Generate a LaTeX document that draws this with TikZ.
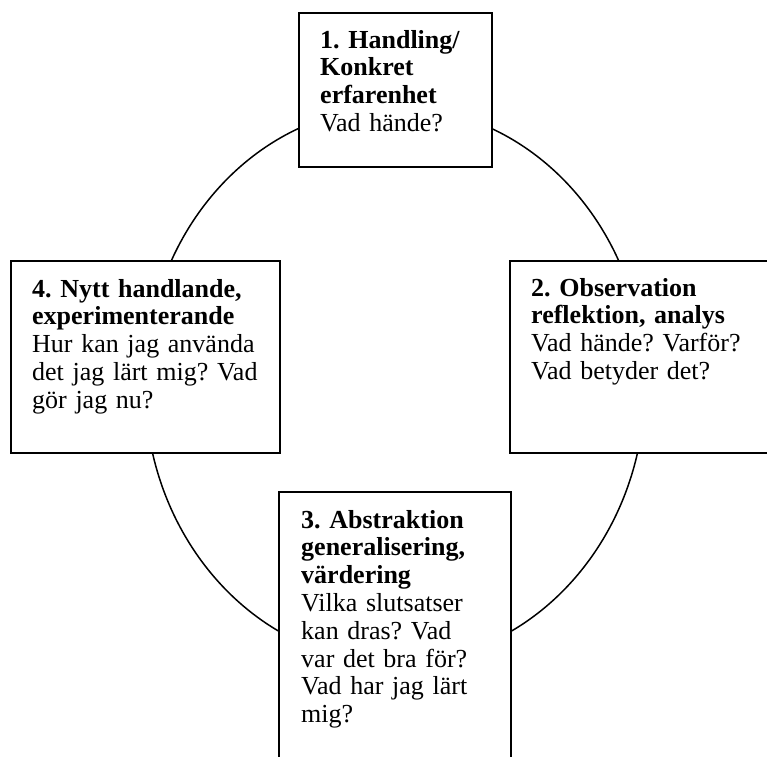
\documentclass[tikz,border=0pt]{standalone}
\usepackage{fontspec}
\setmainfont{Liberation Serif}
\frenchspacing
\begin{document}
\begin{tikzpicture}[x=1pt,y=-1pt]
        \tikzstyle{phase}=[rectangle,draw=black,line width=1.8pt,fill=white,inner sep=0pt,outer sep=0pt]
        \tikzstyle{phasetext}=[anchor=base west,inner sep=0pt,text width=235pt,align=left,font=\fontsize{26}{27.8}\selectfont]
        \tikzstyle{loopline}=[draw,line width=1.5pt]
       \begin{scope}
         \path[use as bounding box,clip] (0,0) rectangle (767,756);
         \path[loopline] (395,385) ellipse [x radius=250pt, y radius=278pt];

         \node [phase,minimum width=193pt,minimum height=154pt] (s1) at (395.5,90) {};
         \node [phase,minimum width=262pt,minimum height=192pt] (s2) at (641,357) {};
         \node [phase,minimum width=232pt,minimum height=270pt] (s3) at (395,627) {};
         \node [phase,minimum width=269pt,minimum height=192pt] (s4) at (145.5,357) {};

         \node [phasetext] (t1) at ([shift={(21,35)}]s1.north west) {\textbf{1. Handling/}\\\textbf{Konkret}\\\textbf{erfarenhet}\\Vad hände?};
         \node [phasetext] (t2) at ([shift={(21,35)}]s2.north west) {\textbf{2. Observation}\\\textbf{reflektion, analys}\\Vad hände? Varför?\\Vad betyder det?};
         \node [phasetext] (t3) at ([shift={(22,36)}]s3.north west) {\textbf{3. Abstraktion}\\\textbf{generalisering,}\\\textbf{värdering}\\Vilka slutsatser\\kan dras? Vad\\var det bra för?\\Vad har jag lärt\\mig?};
         \node [phasetext] (t4) at ([shift={(21,36)}]s4.north west) {\textbf{4. Nytt handlande,}\\\textbf{experimenterande}\\Hur kan jag använda\\det jag lärt mig? Vad\\gör jag nu?};
        \end{scope}
      \end{tikzpicture}
\end{document}
